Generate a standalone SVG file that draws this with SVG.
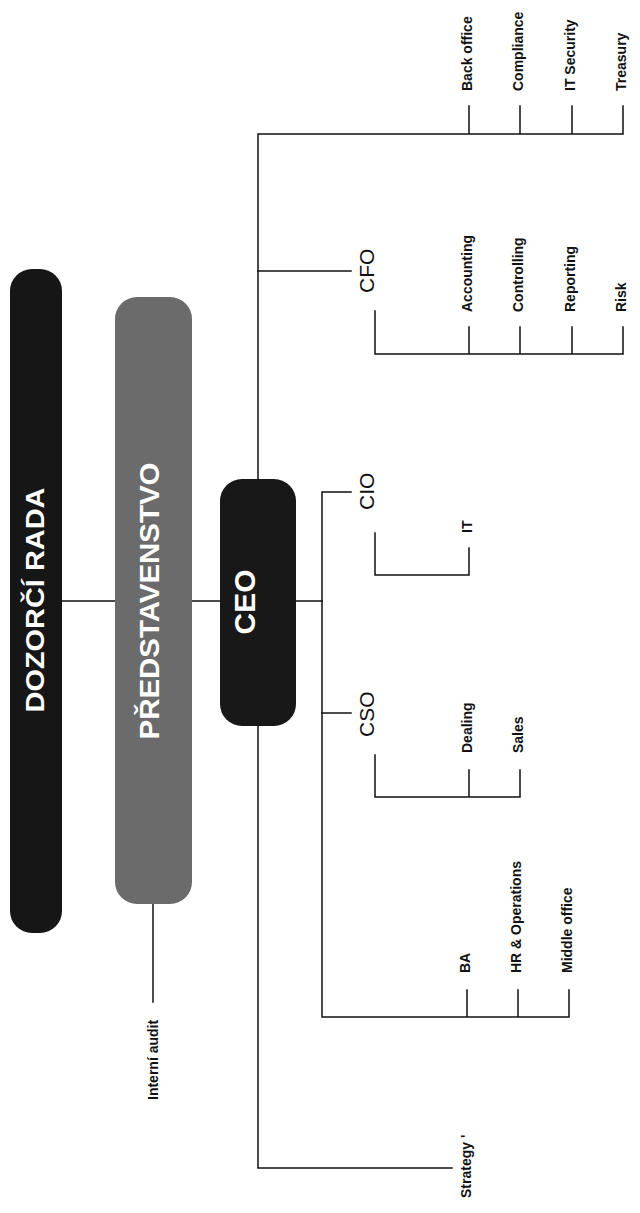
<svg xmlns="http://www.w3.org/2000/svg" width="640" height="1213" viewBox="0 0 640 1213">
<style>
.ln{stroke:#111;stroke-width:1.5;fill:none;stroke-linecap:square}
.big{font-family:"Liberation Sans",Arial,sans-serif;font-weight:bold;fill:#fff}
.role{font-family:"Liberation Sans",Arial,sans-serif;font-size:21px;fill:#111}
.leaf{font-family:"Liberation Sans",Arial,sans-serif;font-size:14px;font-weight:bold;fill:#111}
</style>
<rect width="640" height="1213" fill="#fff"/>
<g id="connectors" class="ln">
<path d="M62 601H115M192 601H220M296 601H322"/>
<path d="M258 479V134H623M469 134V106M520 134V106M572 134V106M623 134V106"/>
<path d="M258 271H351"/>
<path d="M375 311V354H623M469 354V327M520 354V327M572 354V327M623 354V327"/>
<path d="M351 492H322V1017H569M467 1017V990M518 1017V990M569 1017V990"/>
<path d="M322 713H351"/>
<path d="M375 755V797H520M469 797V770M520 797V770"/>
<path d="M375 533V575H469V548"/>
<path d="M258 726V1168H452"/>
<path d="M153 904V1002"/>
</g>
<g id="dozorci-rada">
<rect x="10" y="269" width="52" height="664" rx="22" fill="#161616"/>
<text class="big" x="44" y="600" font-size="25" text-anchor="middle" textLength="225" lengthAdjust="spacingAndGlyphs" transform="rotate(-90 44 600)">DOZORČÍ RADA</text>
</g>
<g id="predstavenstvo">
<rect x="115" y="297" width="77" height="607" rx="22" fill="#6b6b6b"/>
<text class="big" x="159" y="601" font-size="27" text-anchor="middle" textLength="277" lengthAdjust="spacingAndGlyphs" transform="rotate(-90 159 601)">PŘEDSTAVENSTVO</text>
</g>
<g id="ceo">
<rect x="220" y="479" width="76" height="247" rx="22" fill="#181818"/>
<text class="big" x="255" y="602" font-size="30" text-anchor="middle" transform="rotate(-90 255 602)">CEO</text>
</g>
<g id="cfo"><text class="role" x="374" y="293" transform="rotate(-90 374 293)">CFO</text></g>
<g id="cio"><text class="role" x="374" y="510" transform="rotate(-90 374 510)">CIO</text></g>
<g id="cso"><text class="role" x="374" y="737" transform="rotate(-90 374 737)">CSO</text></g>
<g id="back-office"><text class="leaf" x="471.5" y="91" transform="rotate(-90 471.5 91)">Back office</text></g>
<g id="compliance"><text class="leaf" x="522.5" y="91" transform="rotate(-90 522.5 91)">Compliance</text></g>
<g id="it-security"><text class="leaf" x="574.5" y="91" transform="rotate(-90 574.5 91)">IT Security</text></g>
<g id="treasury"><text class="leaf" x="625.5" y="91" transform="rotate(-90 625.5 91)">Treasury</text></g>
<g id="accounting"><text class="leaf" x="471.5" y="312" transform="rotate(-90 471.5 312)">Accounting</text></g>
<g id="controlling"><text class="leaf" x="522.5" y="312" transform="rotate(-90 522.5 312)">Controlling</text></g>
<g id="reporting"><text class="leaf" x="574.5" y="312" transform="rotate(-90 574.5 312)">Reporting</text></g>
<g id="risk"><text class="leaf" x="625.5" y="312" transform="rotate(-90 625.5 312)">Risk</text></g>
<g id="it"><text class="leaf" x="471.5" y="533" transform="rotate(-90 471.5 533)">IT</text></g>
<g id="dealing"><text class="leaf" x="471.5" y="753" transform="rotate(-90 471.5 753)">Dealing</text></g>
<g id="sales"><text class="leaf" x="522.5" y="753" transform="rotate(-90 522.5 753)">Sales</text></g>
<g id="ba"><text class="leaf" x="469.5" y="973" transform="rotate(-90 469.5 973)">BA</text></g>
<g id="hr-operations"><text class="leaf" x="520.5" y="973" transform="rotate(-90 520.5 973)">HR &amp; Operations</text></g>
<g id="middle-office"><text class="leaf" x="571.5" y="973" transform="rotate(-90 571.5 973)">Middle office</text></g>
<g id="strategy"><text class="leaf" x="471" y="1198" transform="rotate(-90 471 1198)">Strategy '</text></g>
<g id="interni-audit"><text class="leaf" x="158" y="1100" transform="rotate(-90 158 1100)">Interní audit</text></g>
</svg>
